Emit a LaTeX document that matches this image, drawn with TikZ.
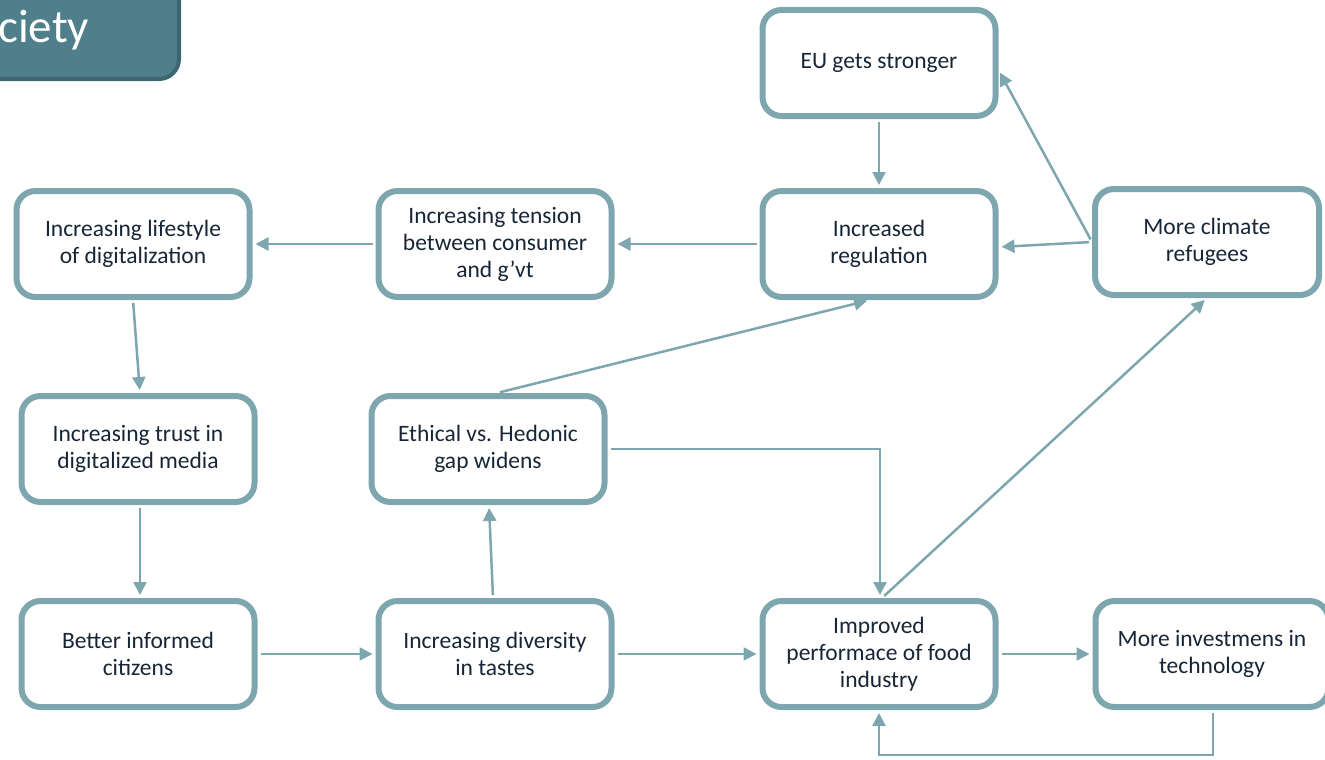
\documentclass[tikz,border=0pt]{standalone}
\usepackage{fontspec}
\setmainfont{Carlito}
\usetikzlibrary{arrows.meta,calc}
\definecolor{boxline}{HTML}{7EA6AE}
\definecolor{arrowline}{HTML}{7EA6AE}
\definecolor{txt}{HTML}{172636}
\definecolor{tabfill}{HTML}{4F7F8A}
\definecolor{tabline}{HTML}{3D6670}
\begin{document}
\begin{tikzpicture}[x=1pt,y=-1pt,
  stepbox/.style={draw=boxline, line width=6pt, fill=white, rounded corners=19pt,
    minimum width=233pt, minimum height=106pt, align=center, text=txt,
    font=\fontsize{23.5}{27}\selectfont, inner sep=0pt},
  link/.style={draw=arrowline, line width=2.5pt,
    -{Triangle[length=13pt,width=13pt]}, shorten >=3pt, shorten <=3pt}]
\useasboundingbox (0,0) rectangle (1325,760);

% header tab in the corner
\begin{scope}
\clip (0,0) rectangle (1325,760);
\draw[fill=tabfill, draw=tabline, line width=4pt, rounded corners=20pt]
  (-40,-40) rectangle (179,79);
\end{scope}
\node[anchor=base west, text=white, font=\fontsize{47}{52}\selectfont, inner sep=0pt]
  (tab) at (-2,43) {ciety};

% boxes
\node[stepbox] (life) at (133,244) {Increasing lifestyle\\of digitalization};
\node[stepbox] (tens) at (495,244) {Increasing tension\\between consumer\\and g’vt};
\node[stepbox] (reg) at (879,244) {Increased\\regulation};
\node[stepbox, minimum width=224pt] (clim) at (1207,242) {More climate\\refugees};
\node[stepbox] (eu) at (879,63) {EU gets stronger};
\node[stepbox] (trust) at (138,449) {Increasing trust in\\digitalized media};
\node[stepbox] (eth) at (488,449) {Ethical vs. Hedonic\\gap widens};
\node[stepbox] (better) at (138,654) {Better informed\\citizens};
\node[stepbox] (div) at (495,654) {Increasing diversity\\in tastes};
\node[stepbox] (imp) at (879,654) {Improved\\performace of food\\industry};
\node[stepbox] (inv) at (1212,654) {More investmens in\\technology};

% connectors
\draw[link] (reg.west) -- (tens.east);
\draw[link] (tens.west) -- (life.east);
\draw[link] (clim.west) -- ($(reg.east)+(0,3)$);
\draw[link] (clim.west) -- ($(eu.east)+(0,7)$);
\draw[link] (eu.south) -- (reg.north);
\draw[link] (life.south) -- ($(trust.north)+(2,0)$);
\draw[link] ($(trust.south)+(2,0)$) -- ($(better.north)+(2,0)$);
\draw[link] (better.east) -- (div.east -| div.west);
\draw[link] ($(div.north)+(-2,0)$) -- ($(eth.south)+(1,0)$);
\draw[link] ($(eth.north)+(9,0)$) -- ($(reg.south)+(-9,0)$);
\draw[link] (eth.east) -| ($(imp.north)+(1,0)$);
\draw[link] ($(imp.north)+(3,0)$) -- (clim.south);
\draw[link] (div.east) -- (imp.west);
\draw[link] (imp.east) -- (inv.west);
\draw[link] ($(inv.south)+(1,0)$) -- ++(0,45) -| (imp.south);
\end{tikzpicture}
\end{document}
